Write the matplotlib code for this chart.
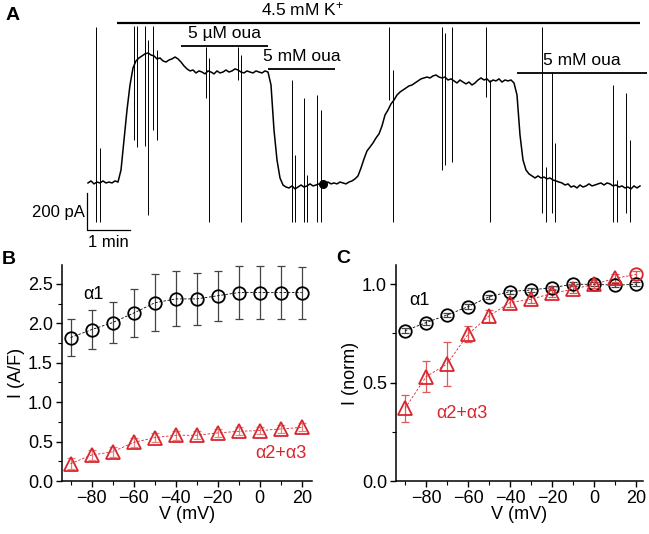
import numpy as np
import matplotlib
matplotlib.use("Agg")
import matplotlib.pyplot as plt

plt.rcParams['font.family'] = ['Liberation Sans', 'DejaVu Sans']
plt.rcParams['mathtext.default'] = 'regular'

RED = '#d8262e'

# ---- panel A: holding current trace (sampled every 4.2 s), pA ----
dt = 4.2
trace_pA = [
    0, 11, -5, 5, 0, 11, 0, 5, 0, 11, 5, 70, 232, 394, 529, 621, 659, 675, 686, 697,
    702, 691, 686, 670, 675, 659, 653, 664, 670, 680, 670, 653, 632, 616, 605, 610, 594, 605, 599, 589,
    605, 599, 589, 605, 594, 599, 610, 599, 605, 616, 610, 599, 594, 605, 599, 594, 605, 599, 594, 605,
    599, 529, 286, 124, 27, -11, -22, -27, -16, -32, -22, -11, -22, -16, -5, -16, -11, -5, -5, 0,
    5, -5, 0, -5, 5, 0, -5, 5, 11, 22, 38, 81, 130, 173, 194, 216, 243, 265, 308, 367,
    394, 427, 448, 475, 491, 502, 513, 524, 529, 540, 551, 562, 567, 572, 567, 578, 583, 572, 567, 572,
    556, 562, 551, 540, 556, 545, 535, 545, 529, 540, 556, 567, 556, 562, 545, 556, 551, 562, 545, 556,
    551, 556, 540, 475, 259, 124, 70, 49, 38, 27, 38, 27, 32, 22, 27, 16, 11, 5, 0, -11,
    -5, -22, -16, -27, -11, -22, -16, -5, -16, -11, -5, 0, -11, 0, -5, -16, -11, -22, -16, -27,
    -22, -32, -16, -27, -16,
]
# fast transients: time (s), top (pA), bottom (pA)
spike_t = [11.2, 16.8, 64.4, 68.6, 79.8, 84.0, 91.0, 96.6, 165.2, 169.4, 210.0, 214.2,
           285.6, 289.8, 302.4, 306.6, 320.6, 326.2, 421.4, 427.0, 495.6, 499.8, 509.6,
           557.2, 562.8, 635.6, 641.2, 649.6, 653.8, 735.0, 740.6, 753.2, 758.8]
spike_top = [842, 189, 848, 848, 848, 772, 848, 718, 734, 675, 734, 691,
             556, 151, 459, 43, 475, 394, 842, 610, 842, 810, 842,
             842, 556, 842, 86, 599, 216, 529, 16, 486, 232]
spike_bot = [-211, -211, 232, 194, 200, -173, 286, 232, 459, -211, 556, -211,
             -211, -211, -211, -211, -211, -211, 448, -211, 70, 97, 113,
             464, -211, -162, -211, -162, -211, -211, -211, -162, -211]
# solution bars: label, start (s), end (s), level (pA)
bar_labels = ['4.5 mM K$^{+}$', '5 \u00b5M oua', '5 mM oua', '5 mM oua']
bar_start = [40.6, 130.2, 252.0, 600.6]
bar_end = [772.8, 252.0, 345.8, 782.6]
bar_level = [864, 740, 616, 594]
dot_t, dot_pA = 329, -5

# ---- panel B: current density, A/F ----
volts = [-90, -80, -70, -60, -50, -40, -30, -20, -10, 0, 10, 20]
a1_dens = [1.82, 1.92, 2.01, 2.13, 2.26, 2.31, 2.31, 2.35, 2.39, 2.39, 2.39, 2.39]
a1_dens_err = [0.24, 0.25, 0.26, 0.30, 0.36, 0.35, 0.33, 0.32, 0.34, 0.34, 0.34, 0.33]
a23_dens = [0.22, 0.33, 0.37, 0.49, 0.55, 0.58, 0.58, 0.61, 0.63, 0.64, 0.66, 0.68]
a23_dens_err = [0.07, 0.06, 0.06, 0.06, 0.06, 0.06, 0.05, 0.05, 0.05, 0.05, 0.05, 0.05]

# ---- panel C: normalized current ----
a1_norm = [0.764, 0.805, 0.844, 0.886, 0.937, 0.963, 0.971, 0.983, 1.0, 1.0, 0.995, 1.0]
a1_norm_err = [0.012, 0.012, 0.012, 0.012, 0.01, 0.01, 0.01, 0.01, 0.01, 0.01, 0.01, 0.01]
a23_norm = [0.369, 0.53, 0.595, 0.746, 0.839, 0.907, 0.924, 0.954, 0.975, 1.0, 1.03, 1.05]
a23_norm_err = [0.068, 0.08, 0.11, 0.04, 0.03, 0.02, 0.02, 0.02, 0.02, 0.02, 0.02, 0.02]

W, H = 649, 534
fig = plt.figure(figsize=(W / 100, H / 100), dpi=100)


def px_axes(l, t, r, b):
    return fig.add_axes([l / W, 1 - b / H, (r - l) / W, (b - t) / H])


# panel A
axA = px_axes(80, 5, 649, 245)
t = np.arange(len(trace_pA)) * dt
axA.plot(t, trace_pA, color='black', lw=1.1)
axA.vlines(spike_t, spike_bot, spike_top, color='black', lw=0.7)
axA.plot(dot_t, dot_pA, 'o', color='black', ms=5.5)
for lab, s, e, lev in zip(bar_labels, bar_start, bar_end, bar_level):
    axA.plot([s, e], [lev, lev], color='black', lw=1.6 if s < 50 else 1.3, solid_capstyle='butt')
    axA.text((s + e) / 2 if s > 50 else 301, lev + 25, lab, ha='center', va='bottom', fontsize=12.5)
# scale bars: 200 pA, 1 min
axA.plot([-1.4, -1.4, 58.6], [-54, -254, -254], color='black', lw=0.9)
axA.text(-4.5, -157, '200 pA', ha='right', va='center', fontsize=12)
axA.text(28, -280, '1 min', ha='center', va='top', fontsize=12)
axA.set_xlim(-11.2, 785.4)
axA.set_ylim(-335, 961)
axA.axis('off')
fig.text(6 / W, 1 - 16 / H, 'A', fontsize=14, fontweight='bold', va='center')


def style(ax, ylim, xlim, ymaj, ymin):
    ax.set_xlim(*xlim)
    ax.set_ylim(*ylim)
    for s in ['top', 'right']:
        ax.spines[s].set_visible(False)
    for s in ['left', 'bottom']:
        ax.spines[s].set_linewidth(1.1)
    ax.set_xticks([-80, -60, -40, -20, 0, 20])
    ax.set_xticks([-90, -70, -50, -30, -10, 10], minor=True)
    ax.set_yticks(ymaj)
    ax.set_yticks(ymin, minor=True)
    ax.yaxis.set_major_formatter(matplotlib.ticker.FormatStrFormatter('%.1f'))
    ax.tick_params(which='major', length=4.5, width=1.0, labelsize=13, pad=2)
    ax.tick_params(which='minor', length=3, width=0.8)
    ax.set_xlabel('V (mV)', fontsize=13, labelpad=-1)


def series(ax, y, err, color, ecolor, marker, ms):
    ax.errorbar(volts, y, yerr=err, fmt='none', ecolor=ecolor, elinewidth=0.9,
                capsize=3, capthick=0.9, zorder=2)
    ax.plot(volts, y, color=color, lw=0.6, ls=(0, (3, 2)), zorder=3)
    ax.plot(volts, y, ls='none', marker=marker, ms=ms, mfc='none', mec=color, mew=1.3, zorder=4)


# panel B
axB = px_axes(62, 265, 312, 481)
style(axB, (0, 2.74), (-94.1, 24.9), np.arange(0, 2.6, 0.5), np.arange(0.25, 2.74, 0.5))
series(axB, a1_dens, a1_dens_err, 'black', '#444444', 'o', 9)
series(axB, a23_dens, a23_dens_err, RED, '#e88080', '^', 10)
axB.set_ylabel('I (A/F)', fontsize=13, labelpad=2)
axB.text(-79, 2.36, '\u03b11', fontsize=13, ha='center', va='center')
axB.text(10, 0.355, '\u03b12+\u03b13', fontsize=13, color=RED, ha='center', va='center')
fig.text(2 / W, 1 - 259 / H, 'B', fontsize=14, fontweight='bold', va='center')

# panel C
axC = px_axes(396, 265, 643, 481)
style(axC, (0, 1.098), (-94.3, 23.3), [0, 0.5, 1.0], [0.25, 0.75])
series(axC, a1_norm, a1_norm_err, 'black', '#444444', 'o', 9)
axC.errorbar(volts, a23_norm, yerr=a23_norm_err, fmt='none', ecolor='#e05a5a', elinewidth=0.9,
             capsize=3, capthick=0.9, zorder=2)
axC.plot(volts, a23_norm, color=RED, lw=0.6, ls=(0, (3, 2)), zorder=3)
axC.plot(volts[:-1], a23_norm[:-1], ls='none', marker='^', ms=10, mfc='none', mec=RED, mew=1.3, zorder=4)
axC.plot(volts[-1:], a23_norm[-1:], ls='none', marker='o', ms=9, mfc='none', mec=RED, mew=1.3, zorder=4)
axC.set_ylabel('I (norm)', fontsize=13, labelpad=2)
axC.text(-83, 0.92, '\u03b11', fontsize=13, ha='center', va='center')
axC.text(-63, 0.345, '\u03b12+\u03b13', fontsize=13, color=RED, ha='center', va='center')
fig.text(336 / W, 1 - 258 / H, 'C', fontsize=14, fontweight='bold', va='center')

fig.savefig('out.png', dpi=100)
